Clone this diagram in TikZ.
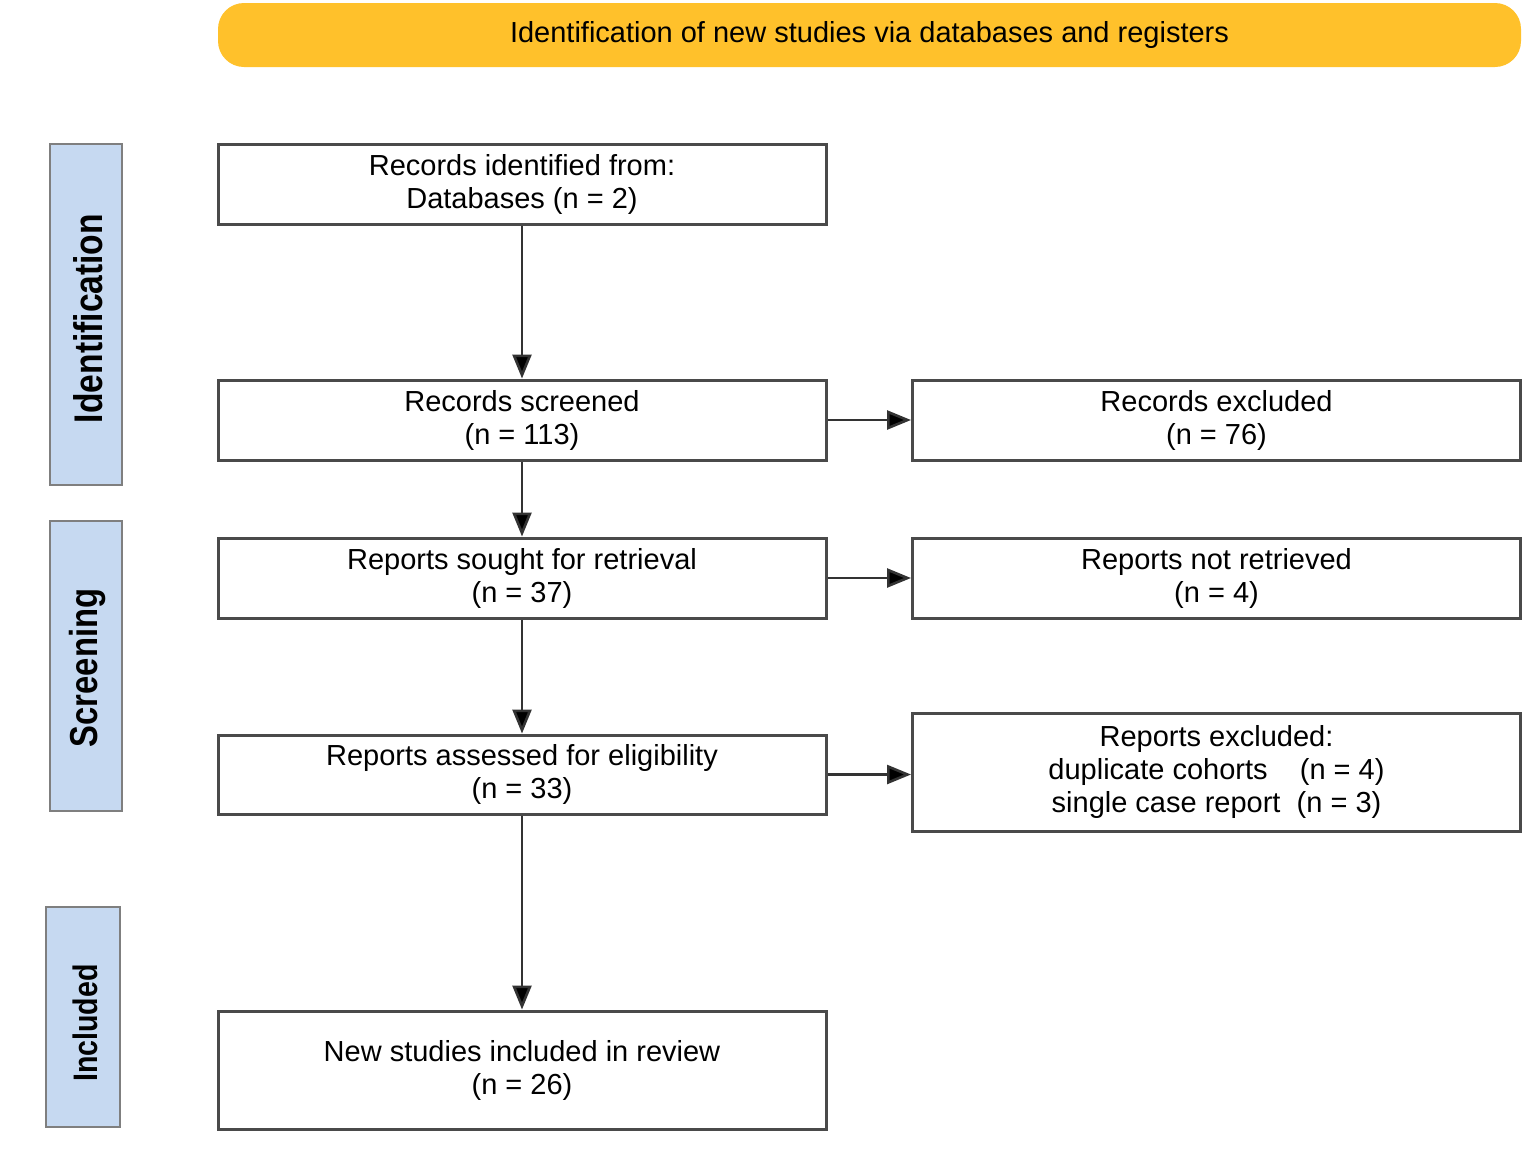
\documentclass[tikz,border=0pt]{standalone}
\usepackage{fontspec}
\setmainfont{Liberation Sans}
\newfontfamily\sidefont[FakeStretch=0.84]{Liberation Sans}
\usetikzlibrary{arrows.meta}
\definecolor{hdr}{HTML}{FFC12B}
\definecolor{side}{HTML}{C6D9F1}
\definecolor{sideborder}{HTML}{7F7F7F}
\definecolor{boxborder}{HTML}{4A4A4A}
\tikzset{
  flowbox/.style={draw=boxborder, line width=1.5pt, fill=white, minimum width=304pt, minimum height=40pt, align=center, inner sep=0pt, font=\fontsize{14.5}{16.5}\selectfont},
  sidebox/.style={draw=sideborder, line width=1.4pt, fill=side, minimum width=36pt, inner sep=0pt},
  sidelabel/.style={rotate=90, font=\sidefont\bfseries\fontsize{20}{21}\selectfont},
  flowarrow/.style={line width=1.3pt, draw=black!80, -{Triangle[length=12pt,width=9.5pt,fill=black]}},
}
\begin{document}
\begin{tikzpicture}[x=0.5pt,y=-0.5pt]
\useasboundingbox (0,0) rectangle (1524,1173);
% header
\node[fill=hdr, rounded corners=13pt, minimum width=651.5pt, minimum height=32pt, inner sep=0pt, font=\fontsize{14.5}{16}\selectfont] (hdr) at (869.5,35) {Identification of new studies via databases and registers};
% side labels
\node[sidebox, minimum height=170.5pt] (s1) at (86,314.5) {};
\node[sidelabel] (s1t) at ([xshift=1pt,yshift=-2pt]s1.center) {Identification};
\node[sidebox, minimum height=145pt] (s2) at (86,666) {};
\node[sidelabel, font=\sidefont\bfseries\fontsize{19.5}{21}\selectfont] (s2t) at ([xshift=1pt,yshift=-1pt]s2.center) {Screening};
\node[sidebox, minimum width=37pt, minimum height=110pt] (s3) at (83,1017) {};
\node[sidelabel, font=\sidefont\bfseries\fontsize{17}{18}\selectfont] (s3t) at ([xshift=1pt,yshift=-3pt]s3.center) {Included};
% main column
\node[flowbox] (b1) at (522,184) {Records identified from:\\Databases (n = 2)};
\node[flowbox] (b2) at (522,420) {Records screened\\(n = 113)};
\node[flowbox] (b3) at (522,578) {Reports sought for retrieval\\(n = 37)};
\node[flowbox, minimum height=39.5pt] (b4) at (522,774.5) {Reports assessed for eligibility\\(n = 33)};
\node[flowbox, minimum height=59pt] (b5) at (522,1070) {New studies included in review\\(n = 26)};
% right column
\node[flowbox] (r1) at (1216.5,420) {Records excluded\\(n = 76)};
\node[flowbox] (r2) at (1216.5,578) {Reports not retrieved\\(n = 4)};
\node[flowbox, minimum height=59pt] (r3) at (1216.5,772) {Reports excluded:\\duplicate cohorts\ \ \ \ (n = 4)\\single case report\ \ (n = 3)};
% arrows
\draw[flowarrow] (b1) -- (b2);
\draw[flowarrow] (b2) -- (b3);
\draw[flowarrow] (b3) -- (b4);
\draw[flowarrow] (b4) -- (b5);
\draw[flowarrow] (b2) -- (r1);
\draw[flowarrow] (b3) -- (r2);
\draw[flowarrow] (b4.east) -- (b4.east -| r3.west);
\end{tikzpicture}
\end{document}
